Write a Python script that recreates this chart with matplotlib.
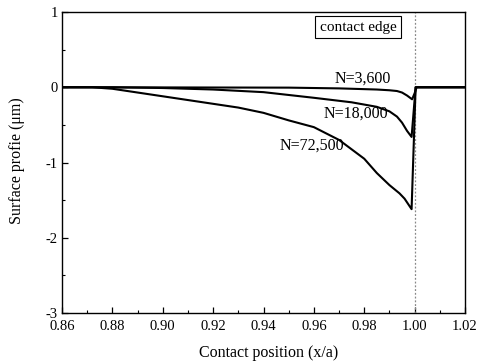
import matplotlib
matplotlib.use("Agg")
import matplotlib.pyplot as plt
from matplotlib.ticker import MultipleLocator

plt.rcParams['font.family'] = ['Liberation Serif', 'DejaVu Serif']

x_72500 = [0.86, 0.872, 0.88, 0.89, 0.90, 0.91, 0.92, 0.93, 0.94, 0.95, 0.96, 0.97, 0.98, 0.985, 0.99, 0.994, 0.996, 0.9988, 1.0004, 1.02]
y_72500 = [0, 0, -0.02, -0.07, -0.12, -0.17, -0.22, -0.27, -0.34, -0.44, -0.53, -0.70, -0.95, -1.14, -1.30, -1.41, -1.48, -1.62, 0, 0]

x_18000 = [0.86, 0.88, 0.90, 0.92, 0.94, 0.96, 0.975, 0.985, 0.99, 0.993, 0.995, 0.997, 0.9988, 1.0004, 1.02]
y_18000 = [0, 0, -0.01, -0.03, -0.065, -0.14, -0.20, -0.26, -0.32, -0.39, -0.47, -0.58, -0.66, 0, 0]

x_3600 = [0.86, 0.95, 0.97, 0.985, 0.99, 0.993, 0.995, 0.997, 0.999, 1.0, 1.0008, 1.02]
y_3600 = [0, -0.005, -0.015, -0.03, -0.04, -0.05, -0.07, -0.11, -0.16, -0.08, 0, 0]

labels = ["N=3,600", "N=18,000", "N=72,500"]
edge_x = 1.00

fig = plt.figure(figsize=(4.83, 3.64), dpi=100)
ax = fig.add_axes([0.1284, 0.1401, 0.8343, 0.8269])

ax.axvline(edge_x, color='#888888', linestyle=(0, (1.5, 1.5)), linewidth=0.9)
ax.plot(x_3600, y_3600, color='black', linewidth=1.5)
ax.plot(x_18000, y_18000, color='black', linewidth=1.5)
ax.plot(x_72500, y_72500, color='black', linewidth=1.5)

ax.text(0.9795, 0.005, labels[0], ha='center', va='bottom', fontsize=11.5)
ax.text(0.9766, -0.355, labels[1], ha='center', va='center', fontsize=11.5)
ax.text(0.9594, -0.77, labels[2], ha='center', va='center', fontsize=11.5)

ax.text(0.9775, 0.80, "contact edge", ha='center', va='center', fontsize=11,
        bbox=dict(boxstyle='square,pad=0.3', facecolor='white', edgecolor='black', linewidth=0.8))

ax.set_xlim(0.86, 1.02)
ax.set_ylim(-3, 1)
ax.xaxis.set_major_locator(MultipleLocator(0.02))
ax.xaxis.set_minor_locator(MultipleLocator(0.01))
ax.yaxis.set_major_locator(MultipleLocator(1))
ax.yaxis.set_minor_locator(MultipleLocator(0.5))
ax.xaxis.set_major_formatter(matplotlib.ticker.FormatStrFormatter('%.2f'))
ax.yaxis.set_major_formatter(matplotlib.ticker.FuncFormatter(lambda v, p: f"{int(round(v))}"))
ax.tick_params(which='major', direction='in', length=4, width=0.9, labelsize=10.5)
ax.tick_params(axis='x', which='major', pad=5)
ax.tick_params(axis='y', which='major', pad=3)
ax.tick_params(which='minor', direction='in', length=2.5, width=0.8)
for s in ax.spines.values():
    s.set_linewidth(1.0)

ax.set_xlabel("Contact position (x/a)", fontsize=11.5)
ax.set_ylabel("Surface profie (\u03bcm)", fontsize=11.5)
ax.xaxis.set_label_coords(0.513, -0.105)
ax.yaxis.set_label_coords(-0.092, 0.505)

fig.savefig("out.png", dpi=100)
